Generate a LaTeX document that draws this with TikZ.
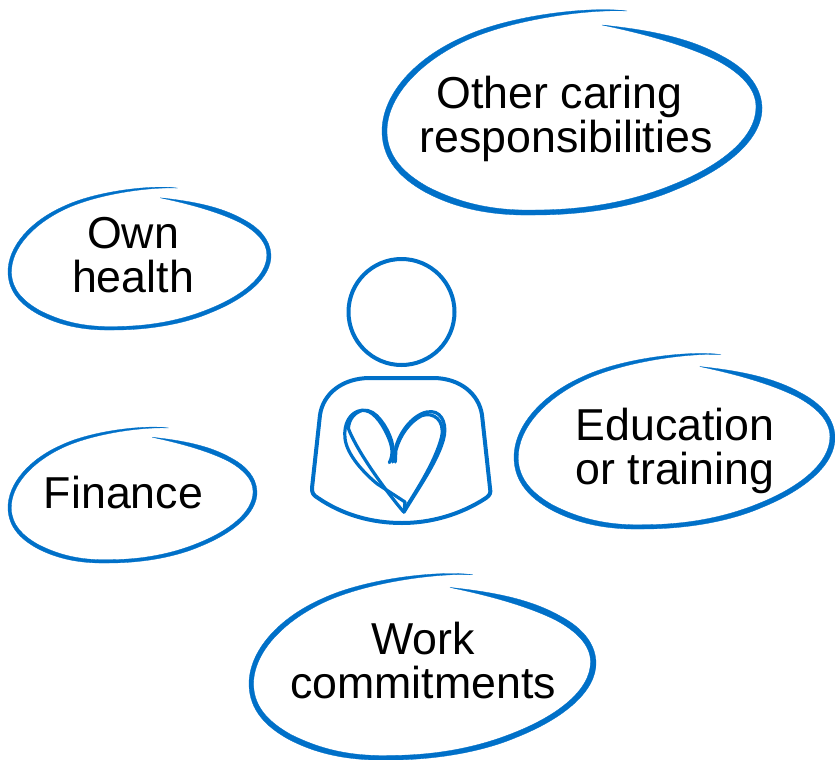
\documentclass[tikz,border=0pt]{standalone}
\usepackage{fontspec}
\setmainfont{Liberation Sans}
\definecolor{sketchblue}{RGB}{0,112,200}
\newcommand{\sketchblob}[4]{%
\begin{scope}[shift={(#1,#2)},xscale=#3/380,yscale=#4/207,shift={(-382,-8)}]
\fill[sketchblue,draw=sketchblue,line width=0.3pt,line join=round] (627,11)
 .. controls (590,6) and (510,15) .. (463,37)
 .. controls (415,58) and (381,95) .. (382,133)
 .. controls (383,160) and (400,178) .. (425,192)
 .. controls (455,208) and (490,216) .. (535,215)
 .. controls (590,215) and (640,205) .. (675,190)
 .. controls (725,170) and (763,140) .. (762,107)
 .. controls (761,85) and (745,68) .. (722,56)
 .. controls (690,38) and (650,30) .. (602,25)
 .. controls (650,35) and (690,47) .. (718,61)
 .. controls (740,73) and (756,88) .. (756,107)
 .. controls (756,138) and (720,166) .. (672,185)
 .. controls (635,200) and (590,210) .. (535,210)
 .. controls (490,211) and (458,202) .. (428,187)
 .. controls (405,174) and (388,158) .. (387,133)
 .. controls (386,97) and (420,62) .. (465,41)
 .. controls (510,20) and (585,9) .. (627,11) -- cycle;
\end{scope}}
\tikzset{
 label text/.style={align=center,inner sep=0pt,text=black,font=\fontsize{44.7}{44}\selectfont},
 figure line/.style={draw=sketchblue,line width=4pt,line join=round,line cap=round},
 heart line/.style={draw=sketchblue,line width=3.2pt,line join=round,line cap=round}
}
\begin{document}
\begin{tikzpicture}[x=1pt,y=-1pt]
\useasboundingbox (0,0) rectangle (835,760);
\sketchblob{382}{8}{380}{207}
\sketchblob{8}{186}{263}{144}
\sketchblob{8}{426}{249}{137}
\sketchblob{514}{352}{321}{177}
\sketchblob{249}{572}{347}{188}
\node[label text] (other) at (566,119) {Other caring\hspace*{13pt}\\responsibilities};
\node[label text] (own) at (133,255) {Own\\health};
\node[label text] (finance) at (123.5,493) {Finance};
\node[label text] (education) at (675,451) {Education\\or training};
\node[label text] (work) at (423,661) {Work\\commitments};
\node[figure line,circle,minimum size=106pt,inner sep=0pt] (head) at (401.5,312) {};
\draw[figure line] (370,378) -- (433,378)
 .. controls (460,378) and (479,394) .. (482,415)
 -- (490,488) .. controls (491,493) and (490,495) .. (486,498)
 .. controls (460,515) and (430,523) .. (402,523)
 .. controls (372,523) and (343,515) .. (318,498)
 .. controls (313,495) and (312,493) .. (312,488)
 -- (320,415) .. controls (323,394) and (342,378) .. (370,378) -- cycle;
\begin{scope}[shift={(290,250)},x=0.3333pt,y=-0.3333pt]
\draw[heart line] (298,638) .. controls (312,612) and (306,585) .. (292,555)
 .. controls (272,512) and (245,478) .. (215,481)
 .. controls (180,485) and (160,522) .. (165,565)
 .. controls (170,615) and (225,672) .. (262,702)
 -- (345,756) -- (342,787)
 .. controls (380,722) and (440,640) .. (460,570)
 .. controls (472,530) and (460,488) .. (425,485)
 .. controls (385,482) and (335,530) .. (318,590) -- (316,636);
\draw[heart line] (308,636) .. controls (318,595) and (300,545) .. (272,510)
 .. controls (258,492) and (240,478) .. (218,481)
 .. controls (195,487) and (178,505) .. (175,535)
 .. controls (195,590) and (265,695) .. (340,785)
 .. controls (370,735) and (435,640) .. (455,560)
 .. controls (465,510) and (430,485) .. (395,497)
 .. controls (360,515) and (330,555) .. (318,600);
\end{scope}
\end{tikzpicture}
\end{document}
